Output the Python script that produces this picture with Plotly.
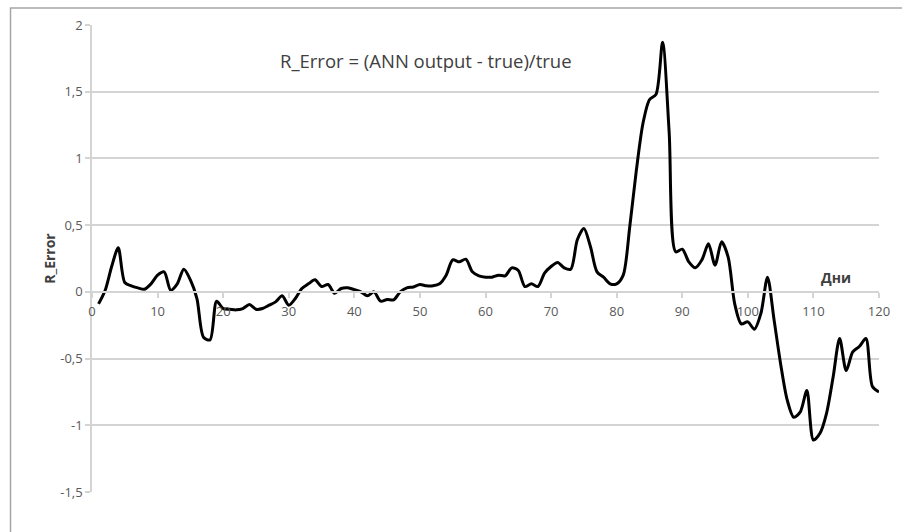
import plotly.graph_objects as go

# Relative error of the ANN forecast, one value per day
days = list(range(1, 121))
r_error = [
    -0.09, 0.01, 0.19, 0.33, 0.07, 0.045, 0.03, 0.02, 0.06, 0.125,
    0.15, 0.012, 0.06, 0.17, 0.09, -0.05, -0.34, -0.36, -0.07, -0.125,
    -0.13, -0.135, -0.125, -0.095, -0.13, -0.125, -0.10, -0.075, -0.03, -0.10,
    -0.05, 0.025, 0.06, 0.09, 0.04, 0.055, -0.01, 0.025, 0.03, 0.017,
    0.0, -0.03, 0.0, -0.07, -0.057, -0.06, 0.0, 0.03, 0.037, 0.055,
    0.045, 0.045, 0.06, 0.125, 0.24, 0.225, 0.245, 0.15, 0.12, 0.11,
    0.11, 0.125, 0.12, 0.18, 0.16, 0.04, 0.06, 0.04, 0.14, 0.19,
    0.22, 0.18, 0.17, 0.39, 0.475, 0.34, 0.15, 0.11, 0.06, 0.06,
    0.125, 0.49, 0.91, 1.26, 1.44, 1.48, 1.87, 1.20, 0.30, 0.32,
    0.225, 0.18, 0.24, 0.36, 0.20, 0.375, 0.26, -0.09, -0.24, -0.225,
    -0.28, -0.16, 0.11, -0.21, -0.54, -0.81, -0.94, -0.90, -0.74, -1.11,
    -1.06, -0.91, -0.64, -0.35, -0.59, -0.45, -0.41, -0.35, -0.71, -0.75,
]

x_ticks = list(range(0, 121, 10))
y_ticks = [-1.5, -1, -0.5, 0, 0.5, 1, 1.5, 2]
y_tick_text = ["-1,5", "-1", "-0,5", "0", "0,5", "1", "1,5", "2"]

Y_MIN, Y_MAX = -1.5, 2.0
zero_pos = (0 - Y_MIN) / (Y_MAX - Y_MIN)

FONT = "Open Sans"
GRID = "#d4d4d4"
TICK_COLOR = "#595959"
TICK_FONT = dict(family=FONT, size=13, color=TICK_COLOR)

fig = go.Figure()
fig.add_trace(go.Scatter(
    x=days, y=r_error, mode="lines",
    line=dict(color="black", width=3, shape="spline", smoothing=0.8),
    showlegend=False, hoverinfo="skip",
))

fig.update_layout(
    width=902, height=532,
    margin=dict(l=92, r=18, t=25, b=40),
    paper_bgcolor="white", plot_bgcolor="white",
    font=dict(family=FONT, size=13, color=TICK_COLOR),
    xaxis=dict(
        range=[0, 120], tickvals=x_ticks, showgrid=False, zeroline=False,
        anchor="free", position=zero_pos, showline=True, linecolor=GRID,
        linewidth=1.5, ticks="outside", ticklen=5, tickcolor=GRID,
        tickwidth=1.5, tickfont=TICK_FONT, ticklabelstandoff=3,
    ),
    yaxis=dict(
        range=[Y_MIN, Y_MAX], tickvals=y_ticks, ticktext=y_tick_text,
        showgrid=True, gridcolor=GRID, gridwidth=1.5, zeroline=False,
        showline=True, linecolor=GRID, linewidth=1.5, ticks="outside",
        ticklen=5, tickcolor=GRID, tickwidth=1.5, tickfont=TICK_FONT,
    ),
    shapes=[dict(
        type="rect", xref="paper", yref="paper",
        x0=(10 - 92) / 792, x1=1.1, y0=-0.2, y1=(492 - 8) / 467,
        line=dict(color="#a6a6a6", width=1.5), fillcolor="rgba(0,0,0,0)",
        layer="below",
    )],
    annotations=[
        dict(text="R_Error = (ANN output - true)/true", xref="paper", yref="paper",
             x=(428 - 92) / 792, y=(492 - 46) / 467, showarrow=False,
             font=dict(family=FONT, size=18.5, color="#404040")),
        dict(text="<b>Дни</b>", xref="paper", yref="paper",
             x=(858 - 92) / 792, y=(492 - 277) / 467, showarrow=False,
             font=dict(family=FONT, size=14, color="#404040")),
        dict(text="<b>R_Error</b>", xref="paper", yref="paper",
             x=(37 - 92) / 792, y=(492 - 258) / 467, showarrow=False,
             textangle=-90,
             font=dict(family=FONT, size=14, color="#404040")),
    ],
)

fig.write_html("out.html")
